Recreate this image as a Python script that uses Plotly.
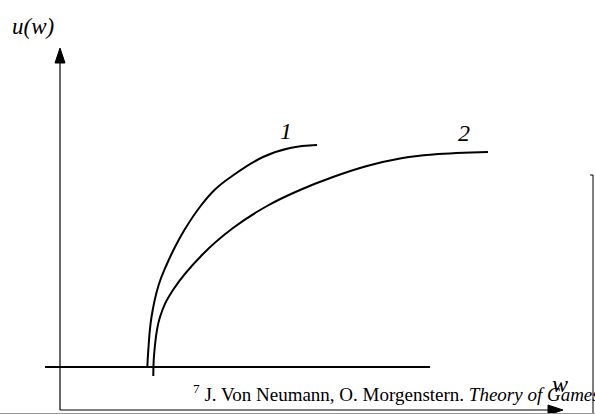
import plotly.graph_objects as go

# Utility curves u(w): wealth w on the horizontal axis, utility u on the vertical
curve1_w = [87.3, 88.3, 91.5, 98.5, 106.5, 115, 125, 141, 155, 170, 203, 230, 257]
curve1_u = [42, 60, 93, 124.5, 145, 163, 181, 204.5, 220.5, 232.5, 253, 262, 265]

curve2_w = [93.3, 94.5, 100, 113, 143, 173, 207, 240, 273, 307, 340, 373, 428]
curve2_u = [34, 60, 93, 120, 156, 182, 204, 220, 233, 244, 251.5, 255.5, 258]

curve_labels = ["1", "2"]
label_w = [226, 404]
label_u = [279, 277]

# Horizontal reference level
level_u = 43
level_w = [-15, 370]

# Axis extents
x_min, x_max = -60, 535
y_min, y_max = -4, 410
y_axis_top = 362
x_axis_end = 503
head_len, head_half = 15, 5

serif = '"Liberation Serif", serif'

fig = go.Figure()

for cw, cu in [(curve1_w, curve1_u), (curve2_w, curve2_u)]:
    fig.add_trace(go.Scatter(x=cw, y=cu, mode="lines",
                             line=dict(color="black", width=2, shape="spline", smoothing=1.2)))

# Horizontal level line
fig.add_trace(go.Scatter(x=level_w, y=[level_u, level_u], mode="lines",
                         line=dict(color="black", width=2)))

# Vertical axis with arrowhead
fig.add_trace(go.Scatter(x=[0, 0], y=[0, y_axis_top - head_len], mode="lines",
                         line=dict(color="black", width=1.2)))
fig.add_trace(go.Scatter(x=[-head_half, 0, head_half, -head_half],
                         y=[y_axis_top - head_len, y_axis_top, y_axis_top - head_len, y_axis_top - head_len],
                         mode="lines", fill="toself", fillcolor="black",
                         line=dict(color="black", width=1)))

# Horizontal axis with arrowhead
fig.add_trace(go.Scatter(x=[0, x_axis_end - head_len], y=[0, 0], mode="lines",
                         line=dict(color="black", width=1.2)))
fig.add_trace(go.Scatter(x=[x_axis_end - head_len, x_axis_end, x_axis_end - head_len, x_axis_end - head_len],
                         y=[head_half, 0, -head_half, head_half],
                         mode="lines", fill="toself", fillcolor="black",
                         line=dict(color="black", width=1)))

# Page frame line on the right and bottom edge
fig.add_trace(go.Scatter(x=[530, 533, 533], y=[235, 235, y_min], mode="lines",
                         line=dict(color="black", width=1)))
fig.add_trace(go.Scatter(x=[x_min, x_max], y=[-3.5, -3.5], mode="lines",
                         line=dict(color="#999999", width=1)))

annotations = [
    dict(x=-27, y=384, text="<i>u(w)</i>", font=dict(size=23)),
    dict(x=500, y=26, text="<i>w</i>", font=dict(size=24)),
    dict(x=131, y=17, text="<sup>7</sup> J. Von Neumann, O. Morgenstern. <i>Theory of Games</i>",
         font=dict(size=19), xanchor="left"),
]
for name, w, u in zip(curve_labels, label_w, label_u):
    annotations.append(dict(x=w, y=u, text=f"<i>{name}</i>", font=dict(size=24)))

for a in annotations:
    a.setdefault("xanchor", "center")
    a["font"]["family"] = serif
    a["font"]["color"] = "black"
    a.update(showarrow=False, yanchor="middle", xref="x", yref="y")

fig.update_layout(
    width=595, height=414,
    margin=dict(l=0, r=0, t=0, b=0),
    paper_bgcolor="white", plot_bgcolor="white",
    font=dict(family=serif, color="black"),
    showlegend=False,
    xaxis=dict(range=[x_min, x_max], visible=False, fixedrange=True),
    yaxis=dict(range=[y_min, y_max], visible=False, fixedrange=True),
    annotations=annotations,
)

fig.write_html("out.html")
